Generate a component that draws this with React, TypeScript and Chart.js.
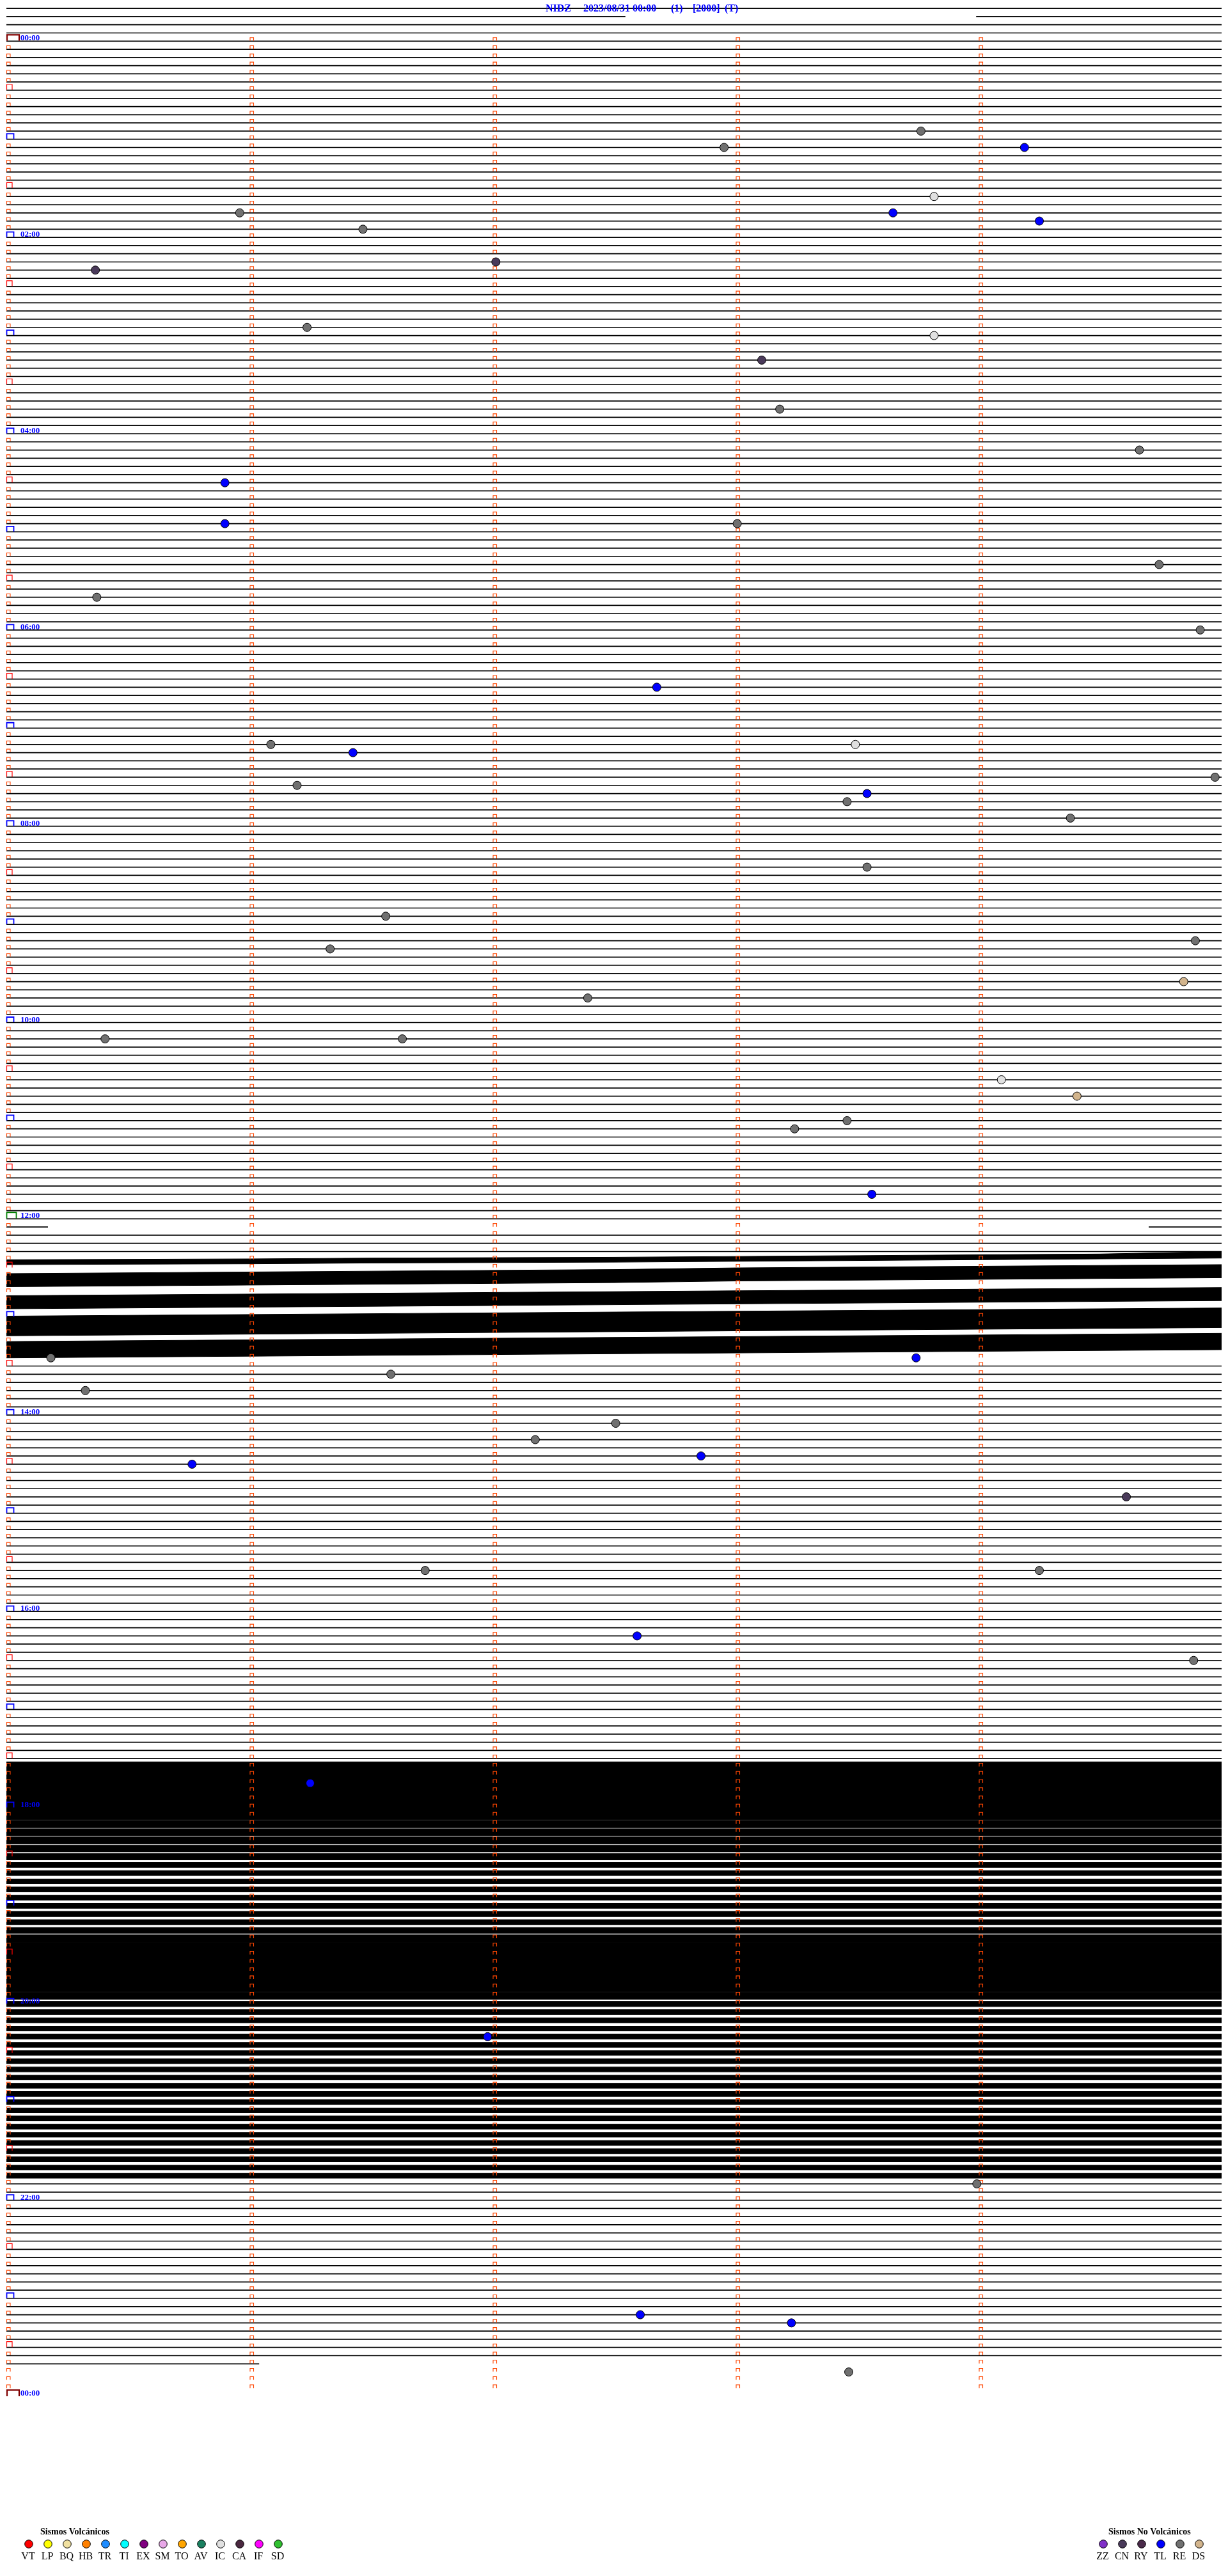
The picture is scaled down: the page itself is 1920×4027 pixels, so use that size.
import React, { useEffect, useRef } from "react";
import { Chart, registerables } from "chart.js";
Chart.register(...registerables);

const W = 1920;
const H = 4027;
const ROW_PX = 12.833;
const ROW0_Y = 57;

const titleParts = ["NIDZ", "2023/08/31 00:00", "(1)", "[2000]", "(T)"];
const titleX = [853, 912, 1049, 1083, 1133];

const hourLabels = ["00:00", "02:00", "04:00", "06:00", "08:00", "10:00", "12:00", "14:00", "16:00", "18:00", "20:00", "22:00", "00:00"];
const hourRows = [0, 24, 48, 72, 96, 120, 144, 168, 192, 216, 240, 264, 288];

const firstTraceRow = -4;
const lastTraceRow = 284;
const lastRowEnd = 1.04;
const gapRows = [-3, 145];
const gapFrom = [2.547, 0.171];
const gapTo = [3.99, 4.7];
const noisyRowsA = [149, 161];
const noisyRowsB = [211, 261];

const noiseX = [0, 0.5, 1, 1.5, 2, 2.5, 3, 3.5, 4, 4.5, 5];
const noiseTop: number[][] = [
  [149.0, 148.95, 148.9, 148.8, 148.75, 148.7, 148.6, 148.5, 148.4, 148.3, 148.0],
  [150.7, 150.6, 150.5, 150.4, 150.3, 150.2, 150.0, 149.9, 149.8, 149.7, 149.6],
  [153.4, 153.3, 153.2, 153.1, 153.0, 152.9, 152.8, 152.7, 152.6, 152.5, 152.4],
  [155.9, 155.8, 155.7, 155.6, 155.5, 155.4, 155.3, 155.2, 155.1, 155.0, 154.9],
  [159.0, 158.9, 158.8, 158.7, 158.6, 158.5, 158.4, 158.3, 158.2, 158.1, 158.0],
];
const noiseBot: number[][] = [
  [149.6, 149.55, 149.5, 149.4, 149.35, 149.3, 149.2, 149.1, 149.0, 148.9, 148.8],
  [152.3, 152.2, 152.1, 152.0, 151.9, 151.8, 151.6, 151.5, 151.4, 151.3, 151.2],
  [155.0, 154.9, 154.8, 154.7, 154.6, 154.5, 154.4, 154.3, 154.2, 154.1, 154.0],
  [158.3, 158.2, 158.1, 158.0, 157.9, 157.8, 157.7, 157.6, 157.5, 157.4, 157.3],
  [161.0, 160.9, 160.8, 160.7, 160.6, 160.5, 160.4, 160.3, 160.2, 160.1, 160.0],
];
const bandRowsB = [211, 212, 213, 214, 215, 216, 217, 218, 219, 220, 221, 222, 223, 224, 225, 226, 227, 228, 229, 230, 231, 232, 233, 234, 235, 236, 237, 238, 239, 240, 241, 242, 243, 244, 245, 246, 247, 248, 249, 250, 251, 252, 253, 254, 255, 256, 257, 258, 259, 260, 261];
const bandHalfB = [0.6, 0.62, 0.6, 0.6, 0.58, 0.55, 0.45, 0.45, 0.42, 0.45, 0.4, 0.38, 0.3, 0.3, 0.28, 0.3, 0.3, 0.3, 0.32, 0.3, 0.35, 0.45, 0.55, 0.58, 0.58, 0.55, 0.55, 0.5, 0.42, 0.32, 0.3, 0.3, 0.28, 0.3, 0.3, 0.28, 0.3, 0.3, 0.28, 0.3, 0.3, 0.3, 0.28, 0.3, 0.3, 0.28, 0.3, 0.3, 0.3, 0.28, 0.3];

const eventRow = [11, 13, 13, 21, 21, 19, 22, 23, 28, 27, 35, 36, 39, 45, 50, 54, 59, 59, 64, 68, 72, 79, 86, 86, 87, 90, 91, 92, 93, 95, 101, 107, 111, 110, 115, 117, 122, 122, 127, 129, 133, 132, 141, 161, 161, 163, 165, 169, 171, 174, 173, 178, 187, 187, 195, 198, 213, 244, 262, 278, 279, 285];
const eventMin = [3.763, 2.953, 4.189, 0.96, 3.648, 3.817, 4.25, 1.467, 0.366, 2.014, 1.237, 3.817, 3.108, 3.182, 4.662, 0.899, 0.899, 3.007, 4.743, 0.372, 4.912, 2.676, 1.088, 3.493, 1.426, 4.973, 1.196, 3.541, 3.459, 4.378, 3.541, 1.561, 1.332, 4.892, 4.844, 2.392, 0.406, 1.629, 4.094, 4.405, 3.243, 3.459, 3.561, 0.183, 3.743, 1.582, 0.325, 2.507, 2.176, 0.764, 2.858, 4.608, 1.723, 4.25, 2.595, 4.885, 1.25, 1.98, 3.993, 2.608, 3.23, 3.466];
const eventType = ["RE", "RE", "TL", "RE", "TL", "IC", "TL", "RE", "CN", "CN", "RE", "IC", "CN", "RE", "RE", "TL", "TL", "RE", "RE", "RE", "RE", "TL", "RE", "IC", "TL", "RE", "RE", "TL", "RE", "RE", "RE", "RE", "RE", "RE", "DS", "RE", "RE", "RE", "IC", "DS", "RE", "RE", "TL", "RE", "TL", "RE", "RE", "RE", "RE", "TL", "TL", "CN", "RE", "RE", "TL", "RE", "TL", "TL", "RE", "TL", "TL", "RE"];

const volcCodes = ["VT", "LP", "BQ", "HB", "TR", "TI", "EX", "SM", "TO", "AV", "IC", "CA", "IF", "SD"];
const volcColors = ["#ff0000", "#ffff00", "#f0e0a0", "#ff8000", "#1e8cff", "#00ffff", "#800080", "#e8a8e8", "#ffa500", "#1a8060", "#e0e0e0", "#4a2840", "#ff00ff", "#30c030"];
const nonVolcCodes = ["ZZ", "CN", "RY", "TL", "RE", "DS"];
const nonVolcColors = ["#8030c8", "#4a3a5a", "#4a2a4a", "#0000ff", "#707070", "#d2b48c"];

function colorOf(code: string): string {
  const i = nonVolcCodes.indexOf(code);
  if (i >= 0) return nonVolcColors[i];
  const j = volcCodes.indexOf(code);
  return j >= 0 ? volcColors[j] : "#808080";
}

function inRange(r: number, range: number[]) {
  return r >= range[0] && r <= range[1];
}

export default function App() {
  const ref = useRef<HTMLCanvasElement | null>(null);
  useEffect(() => {
    const canvas = ref.current;
    if (!canvas) return;
    const trace: any[] = [];
    for (let r = firstTraceRow; r <= lastTraceRow; r++) {
      if (inRange(r, noisyRowsA) || inRange(r, noisyRowsB)) continue;
      const gi = gapRows.indexOf(r);
      const end = r === lastTraceRow ? lastRowEnd : 5;
      if (gi >= 0) {
        trace.push({ x: 0, y: r }, { x: gapFrom[gi], y: r }, { x: gapFrom[gi], y: null });
        trace.push({ x: gapTo[gi], y: r }, { x: end, y: r }, { x: end, y: null });
      } else {
        trace.push({ x: 0, y: r }, { x: end, y: r }, { x: end, y: null });
      }
    }
    const eventCodes = Array.from(new Set(eventType));
    const eventSets = eventCodes.map((code) => ({
      type: "scatter" as const,
      label: code,
      data: eventRow.map((r, i) => ({ x: eventMin[i], y: r, t: eventType[i] })).filter((p) => p.t === code),
      pointRadius: 6.5,
      pointBackgroundColor: colorOf(code),
      pointBorderColor: "#000",
      pointBorderWidth: 1,
      showLine: false,
    }));
    const bandSets: any[] = [];
    noiseTop.forEach((top, b) => {
      bandSets.push({ type: "line", data: noiseX.map((x, i) => ({ x, y: top[i] })), borderColor: "#000", borderWidth: 1, pointRadius: 0, fill: false });
      bandSets.push({ type: "line", data: noiseX.map((x, i) => ({ x, y: noiseBot[b][i] })), borderColor: "#000", borderWidth: 1, pointRadius: 0, fill: "-1", backgroundColor: "#000" });
    });
    bandRowsB.forEach((r, b) => {
      bandSets.push({ type: "line", data: noiseX.map((x) => ({ x, y: r - bandHalfB[b] })), borderColor: "#000", borderWidth: 1, pointRadius: 0, fill: false });
      bandSets.push({ type: "line", data: noiseX.map((x) => ({ x, y: r + bandHalfB[b] })), borderColor: "#000", borderWidth: 1, pointRadius: 0, fill: "-1", backgroundColor: "#000" });
    });
    const traceSet = { type: "line" as const, data: trace, borderColor: "#000", borderWidth: 1.7, pointRadius: 0, spanGaps: false, fill: false };
    const nEvents = eventSets.length;
    const deco = {
      id: "deco",
      afterDatasetDraw(chart: any, args: any) {
        if (args.index !== nEvents) return;
        const ctx = chart.ctx;
        const xs = chart.scales.x;
        const ys = chart.scales.y;
        ctx.save();
        const box = (x: number, y: number, w: number, h: number, color: string, lw: number) => {
          ctx.strokeStyle = color;
          ctx.lineWidth = lw;
          ctx.beginPath();
          ctx.moveTo(x, y - 0.5);
          ctx.lineTo(x, y - h);
          ctx.lineTo(x + w, y - h);
          ctx.lineTo(x + w, y - 0.5);
          ctx.stroke();
        };
        for (let r = 0; r <= 288; r++) {
          const y = ys.getPixelForValue(r);
          const x0 = xs.getPixelForValue(0) + 0.5;
          if (r === 0 || r === 288) box(x0 + 0.5, y, 19, 10, "#800000", 2.2);
          else if (r === 144) box(x0, y, 15, 10, "#008000", 1.8);
          else if (r % 12 === 0) box(x0, y, 11, 8.5, "#0000ff", 1.8);
          else if (r % 6 === 0) box(x0, y, 8.5, 9, "#ff0000", 1.2);
          else box(x0, y, 5.5, 5.5, "#ff4500", 1.1);
          if (r <= 287) {
            for (let m = 1; m <= 4; m++) box(xs.getPixelForValue(m) + 1, y, 5.5, 5.5, "#ff4500", 1.1);
          }
        }
        ctx.fillStyle = "#0000ff";
        ctx.font = "bold 13px 'Liberation Serif'";
        ctx.textBaseline = "alphabetic";
        hourLabels.forEach((t, i) => ctx.fillText(t, 32, ys.getPixelForValue(hourRows[i]) - 1));
        ctx.restore();
      },
      afterDraw(chart: any) {
        const ctx = chart.ctx;
        ctx.save();
        ctx.fillStyle = "#0000ff";
        ctx.font = "bold 16px 'Liberation Serif'";
        ctx.textBaseline = "alphabetic";
        titleParts.forEach((t, i) => ctx.fillText(t, titleX[i], 18));
        const drawLegend = (codes: string[], colors: string[], cx0: number, title: string, tx: number) => {
          ctx.fillStyle = "#000";
          ctx.font = "bold 14px 'Liberation Serif'";
          ctx.textAlign = "left";
          ctx.fillText(title, tx, 3962);
          codes.forEach((c, i) => {
            const cx = cx0 + i * 30;
            ctx.beginPath();
            ctx.arc(cx, 3977, 6.3, 0, Math.PI * 2);
            ctx.fillStyle = colors[i];
            ctx.fill();
            ctx.strokeStyle = "#000";
            ctx.lineWidth = 1;
            ctx.stroke();
            ctx.fillStyle = "#000";
            ctx.font = "16px 'Liberation Serif'";
            ctx.textAlign = "center";
            ctx.fillText(c, cx - 1, 4001);
            ctx.textAlign = "left";
          });
        };
        drawLegend(volcCodes, volcColors, 45, "Sismos Volcánicos", 63);
        drawLegend(nonVolcCodes, nonVolcColors, 1725, "Sismos No Volcánicos", 1733);
        ctx.restore();
      },
    };
    const chart = new Chart(canvas, {
      type: "line",
      data: { datasets: [...eventSets, traceSet, ...bandSets] as any },
      options: {
        responsive: false,
        animation: false,
        devicePixelRatio: 1,
        layout: { padding: { left: 10, right: 10, top: 0, bottom: 0 } },
        scales: {
          x: { type: "linear", min: 0, max: 5, display: false },
          y: { type: "linear", min: -ROW0_Y / ROW_PX, max: (H - ROW0_Y) / ROW_PX, reverse: true, display: false },
        },
        plugins: { legend: { display: false }, tooltip: { enabled: false } },
        elements: { line: { tension: 0 } },
      },
      plugins: [deco],
    });
    return () => chart.destroy();
  }, []);
  return (
    <div style={{ position: "absolute", left: 0, top: 0, width: W, height: H, background: "#fff" }}>
      <canvas ref={ref} width={W} height={H} style={{ width: W, height: H, display: "block" }} />
    </div>
  );
}
